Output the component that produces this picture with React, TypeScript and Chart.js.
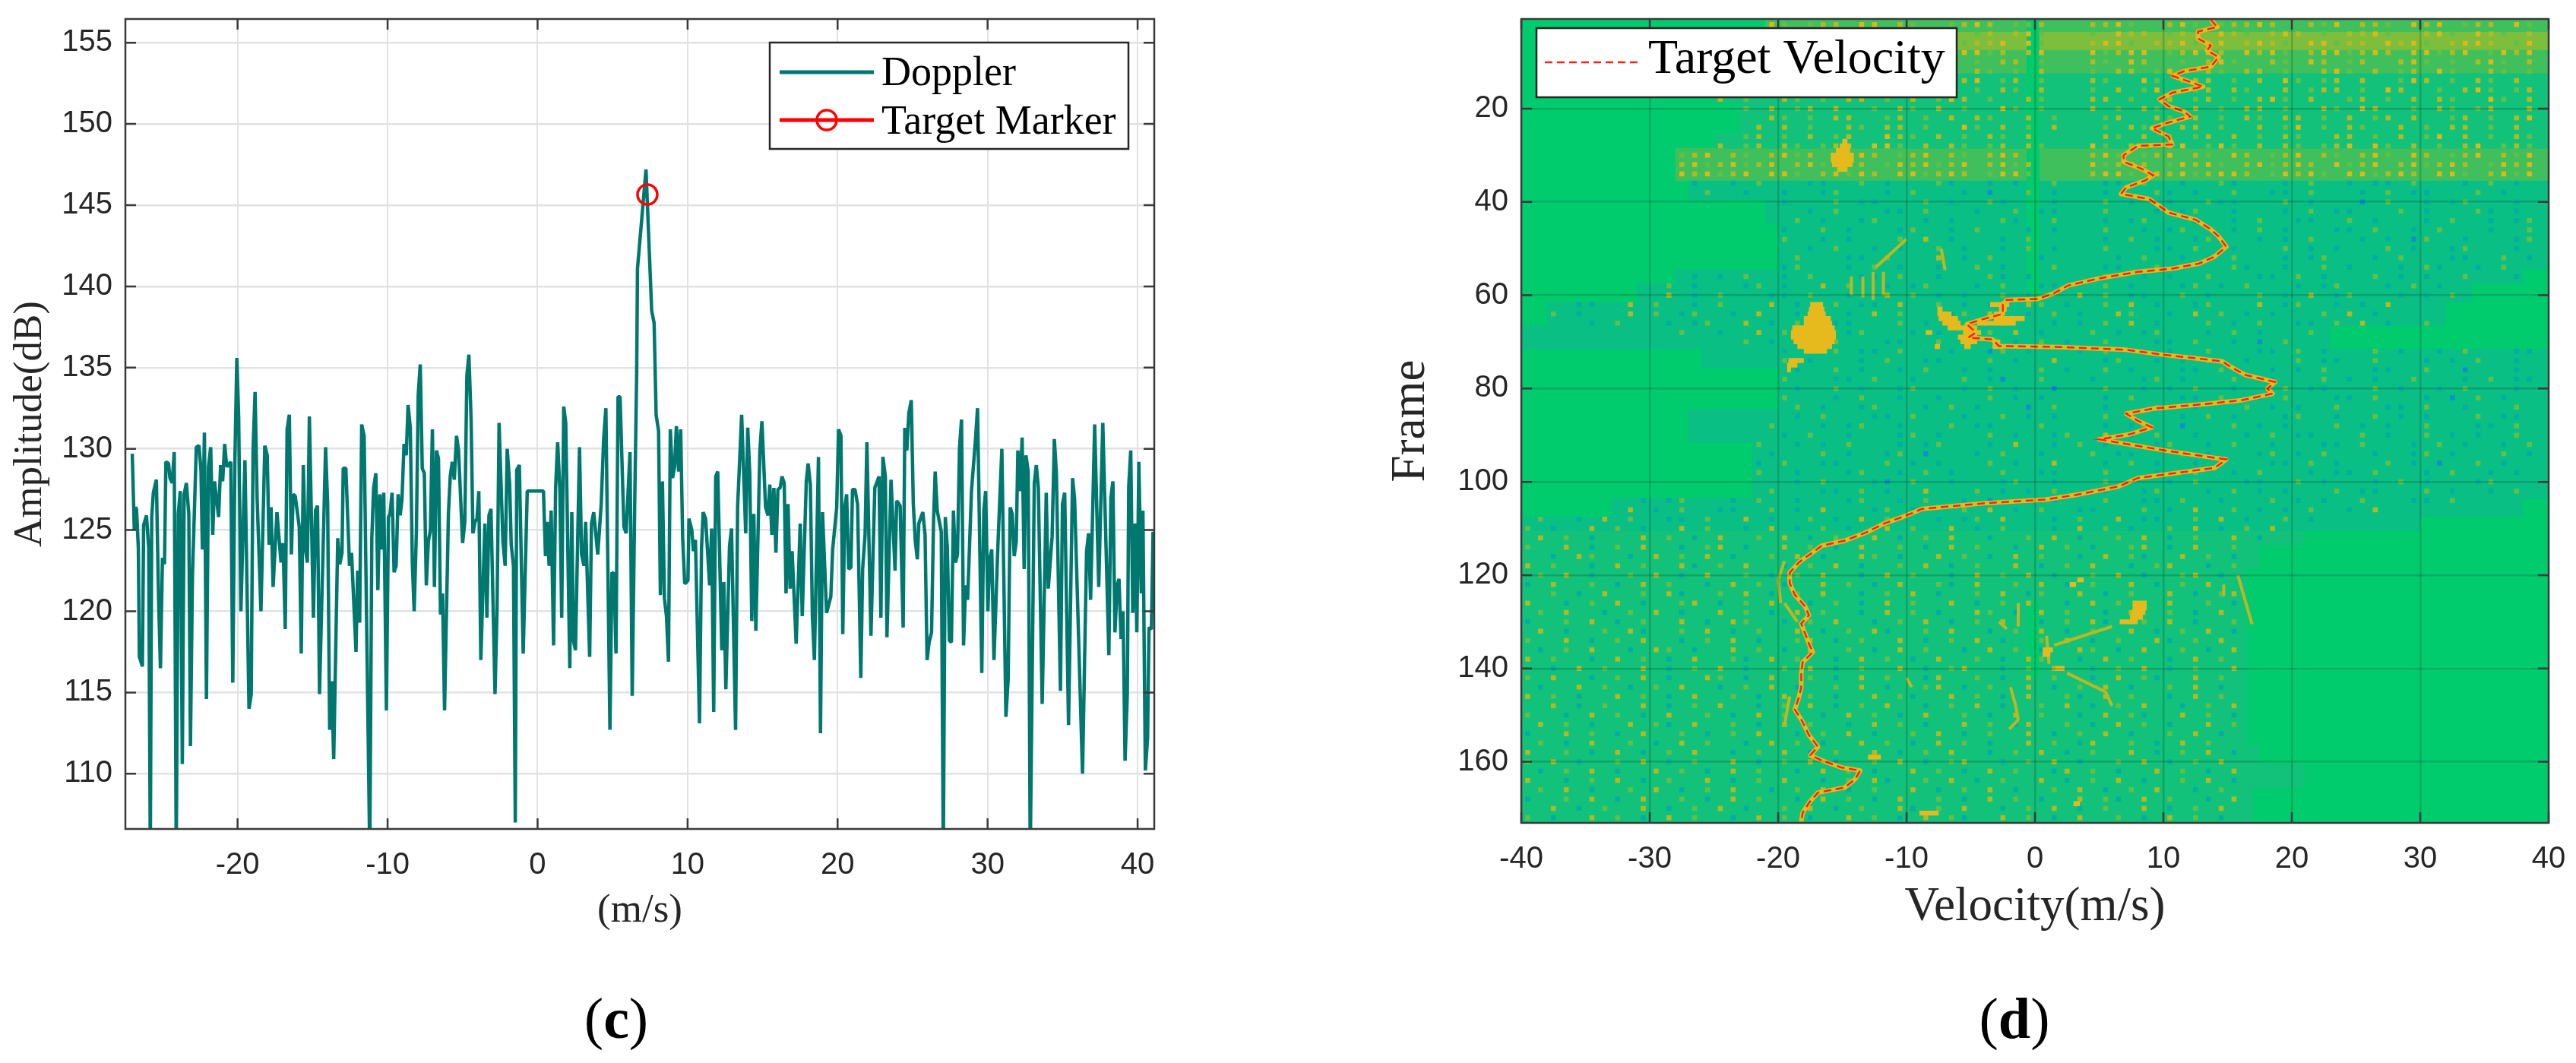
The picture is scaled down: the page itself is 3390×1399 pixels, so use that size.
import React, { useEffect, useRef } from "react";
import { Chart, registerables } from "chart.js";
Chart.register(...registerables);

// ---------- panel (c): Doppler spectrum as [bin, dB]
const BIN0 = -27.48;
const BIN_STEP = 0.1351;
const dopplerPartA = [[3.4,129.7],[4.4,125],[5,126.4],[5.5,126.3],[6.4,123.9],[6.9,117.2],[8.4,116.6],[9,125.3],[10.4,125.9],[11.5,123.9],[12.3,105],[13,125.8],[13.8,127.3],[15.3,128.1],[16.3,121.2],[17.3,116.5],[18.3,123.3],[19.3,122.9],[20,129.2],[21.3,129.1],[22,128.2],[23.1,127.9],[24.1,129.8],[25.1,105],[26.1,126],[27.1,127.4],[28.1,110.6],[29,127.2],[30.1,127.9],[31.3,126],[32.1,111.7],[33.1,122.2],[35,130.1],[36.3,130.2],[37.3,128.7],[38,123.8],[39,131],[40,114.6],[41,128.9],[42.1,130.1],[43.1,124.7],[44,128],[45,126.9],[46,125.8],[47,129],[48,128],[49,130.3],[50,128.9],[52,129.2],[53,115.6],[54,129],[55,135.6],[55.9,132],[57,120],[59,129.3],[61,114],[62.1,114.9],[63,129.9],[64,133.5],[65,127],[66.9,120],[68.8,130.2],[70,129.6],[70.9,124.1],[71.9,126.4],[72.9,121.5],[74.8,126.1],[76.8,123],[77.8,124.2],[78.9,118.9],[79.8,131.2],[80.9,132.1],[81.9,123.5],[82.8,127.2],[83.8,127.1],[85.8,125.2],[86.8,117.4],[87.8,129],[88.8,123.9],[89.8,123],[90.8,132],[92.8,119.6],[93.8,126.2],[94.8,126.5],[95.8,114.9],[98.8,130.1],[99.8,126.6],[100.8,112.7],[101.8,115.7],[102.8,110.9],[104.8,124.5],[105.8,122.9],[106.9,123.6],[107.5,128.8],[108.8,128.8],[110.6,122.8],[111.6,123.6],[113.8,117.5],[114.6,122.5],[115.6,119.3],[116.6,131.5],[117.8,130.8],[120.6,105],[121.6,124.5],[122.5,127.6],[123.6,128.5],[124.6,121.3],[125.6,127.2],[126.5,123.8],[127.5,127.3]];
const dopplerPartB = [[128.8,113.9],[129.8,125.8],[130.6,126],[131.6,127.3],[132.6,122.4],[133.6,122.8],[134.6,127.2],[135.6,125.9],[136.5,126.9],[137.5,130.3],[138.6,129.6],[139.5,132.7],[140.6,131.3],[141.6,123],[142.5,120],[143.6,124.9],[144.5,133.3],[145.5,135.2],[146.5,128.8],[147.5,128.5],[148.5,121.6],[149.5,124.3],[150.5,125],[151.5,131.2],[152.5,121.5],[153.5,129.9],[154.5,129.4],[155.5,119.8],[156.5,121.1],[157.5,113.9],[159.4,126],[160.3,128.3],[161.3,129.2],[162.3,128.1],[163.4,130.8],[164.4,129.9],[166.4,124.2],[167.5,125.5],[168.5,134.5],[169.5,135.8],[170.6,131.8],[171.5,124.8],[172.5,125.5],[173.5,125.7],[174.4,127.4],[175.4,117],[177.4,125.4],[178.4,119.6],[179.4,125.9],[180.4,126.3],[182.4,114.9],[183.4,120.1],[184.4,131.6],[186.3,124.3],[187.4,122.8],[188.4,130],[189.6,127.9],[190.4,124.1],[191.5,122.8],[192.4,107],[193.1,128.7],[194.4,129],[196.3,117.4],[198.3,127.4],[206.3,127.4],[207.3,123.4],[208.1,125.5],[209.1,122.8],[210.1,126.2],[211.3,117.9],[212.3,127.6],[213.3,130.4],[214.4,127.5],[215.3,119.6],[216.3,132.6],[217.3,131.6],[219.3,116.5],[220.3,126.1],[221.1,118.2],[222.1,117.6],[224.1,130.1],[225.1,123.5],[226.3,122.8],[227.1,125.5],[229.1,117.2],[230,125.4],[231.1,126.1],[233.1,123.5],[234.8,126.6],[236,130.6],[237.1,132.5],[239.1,112.7],[240.1,122.4],[241.1,122.3],[242.1,117.4],[243.1,133.2],[244.1,133.2],[246,125.2],[247.1,124.8],[249,129.8],[250.1,114.8],[251.3,126.4],[252.3,134.7]];
const dopplerPartC = [[252.7,141.1],[256.9,147.2],[259.7,138.5],[260.9,137.75],[261.9,132.1],[263.1,131.1],[264,121],[265,128],[266,120.8],[267,119.7],[268,116.9],[268.9,131.2],[270,128.2],[271,128.9],[271.9,131.4],[273,128.6],[274,131.2],[275,124.5],[276,121.7],[277,121.8],[277.6,121.9],[278.1,125.7],[279.5,125],[280.3,123.7],[281.3,124.4],[283.3,113.1],[284.3,123.9],[285.1,126.1],[286.3,125.7],[288.3,121.6],[289.3,125.1],[290.3,113.8],[291.3,128.3],[292.3,128.6],[294.3,117.6],[295.3,121.8],[296.3,115.2],[298.1,124],[299.1,125.1],[301.1,112.7],[302.1,126.4],[304.1,132.1],[306.1,124.8],[307.1,131.3],[308.1,128.5],[309.1,119.4],[310.1,126],[311.1,118.8],[313.1,129.9],[314.1,131.7],[315.9,126.4],[317.1,125.9],[318,127.8],[319,124.7],[320,127.6],[321,123.6],[322,127.5],[323.1,127.6],[324,128.3],[325.1,127.9],[326,121.1],[327,126.6],[328,121.4],[329,123.7],[331,118],[333,125.4],[334,119.7],[336,128],[336.9,129.1],[338,127.8],[339,119.7],[340,117],[342,129.5],[343,112.5],[344,126.1],[346,119.9],[348.1,120.9],[349,123.8],[351,126.4],[351.9,131.2],[353.1,130.8],[354,118.6],[355,126.4],[355.9,127.2],[356.9,122.6],[358,122.7],[358.8,127.5],[360,127.5],[361.3,126.6],[362.9,115.9],[363.8,122.6],[365,124.7],[365.9,130.4],[367.9,118.5],[369.8,127.6],[371.9,128.3],[372.8,119.6],[373.8,129.5],[375,128.3],[375.8,118.4],[377.8,128.1],[379.8,122.5],[380.6,126.8],[382.3,126.5]];
const dopplerPartD = [[383.8,119],[384.6,131.3],[385.6,129.9],[386.6,132.2],[387.8,133],[388.8,126.6],[389.8,124.3],[390.8,123.2],[391.5,125.4],[393.5,126.1],[394.6,124.7],[395.6,117],[396.6,118.1],[397.8,118.7],[398.8,125.6],[399.6,128.6],[400.6,126.2],[402.6,124.9],[403.6,105],[404.6,125.8],[405.6,123.9],[406.6,118.2],[407.6,118.1],[408.6,126.2],[409.6,123],[410.6,123.5],[411.6,130.1],[412.6,131.8],[413.6,117.9],[414.6,121.6],[415.6,120.7],[417.5,127.4],[419.5,130.6],[420.5,132.5],[422.6,116.2],[423.6,126.2],[424.5,127.4],[425.6,120],[426.5,123.2],[427.5,123.8],[428.6,117],[430.5,123.9],[432.5,130],[434.5,113.5],[435.6,115.8],[436.6,126.4],[437.6,126],[438.6,123.4],[439.6,124.3],[440.4,129.9],[441.5,127.4],[442.5,130.7],[443.5,122.6],[444.4,129.6],[445.5,128.6],[446.5,105],[448.5,127.9],[449.5,129],[450.5,127.6],[452.4,114.3],[454.4,127.3],[455.4,121.4],[457.3,124.6],[458.4,130.6],[459.4,128.5],[461.4,115.1],[462.4,126.6],[463.5,127.3],[465.4,113],[467.4,128.2],[468.4,126.9],[472.3,110],[474.3,123.7],[475.3,124.8],[476.3,120.7],[478.3,131.5],[480.3,121.5],[482.3,131.6],[485.3,117.3],[486.3,127],[487.3,128],[488.3,118.7],[489.4,121.6],[490.3,122],[491.3,118.3],[492.3,120],[493.3,110.8],[494.4,114.9],[495.1,127.7],[496.1,129.9],[497.1,119.9],[498.1,125.4],[499.1,118.7],[500.1,129.2],[501.3,121.1],[502.1,126.2],[503.3,110.2],[504.4,112.2],[505.1,119],[506.3,118.9],[507.1,124.9],[508.3,121.1]];
const targetVelocity = [7.32];
const targetAmplitude = [145.65];
const cXTicks = [-20, -10, 0, 10, 20, 30, 40];
const cYTicks = [110, 115, 120, 125, 130, 135, 140, 145, 150, 155];

// ---------- panel (d): track, as [frame, m/s]
const trackPairs = [[1,13.7],[2.5,14.2],[3.5,12.7],[5,12.7],[6.5,13.7],[7.5,13.4],[9,14.3],[11,13.7],[12,11.6],[13,10.7],[14.4,12.2],[15.3,13.1],[16.6,10.7],[18,9.7],[19.5,10.4],[20.6,11.6],[21.7,12.1],[23,10.4],[24.2,9.1],[26,10.4],[27.7,10.7],[28,8],[30,6.9],[31.4,6.9],[32.9,8.3],[34.3,9.2],[35.4,8.6],[36.9,7.1],[38.3,6.7],[39.4,8.9],[40.9,9.7],[42.3,10.4],[43.8,12.5],[45.9,13.7],[47.4,14.3],[49.6,14.9],[51.7,14],[53.2,12.8],[54.3,10.7],[55,8],[56.4,5],[57.9,2.6],[59.7,1.4],[60.8,0.2],[61,-2.2],[61.9,-2.5],[64,-2.5],[65.1,-4],[66.2,-5.3],[68,-4.6],[69.1,-5.2],[69.5,-3.3],[70.9,-2.8],[71.1,2],[71.7,7.1],[72.8,10.1],[73.5,12.5],[74.2,14.6],[75.3,15.2],[77.1,16.4],[78.6,18.7],[80,18.1],[81.1,18.5],[82.5,16.1],[83.3,13.4],[84.3,9.2],[85.4,7.1],[86.9,8],[88.3,9.1],[89.8,7.4],[90.9,5],[92.3,8],[93.4,10.4],[94.5,13.1],[95.2,14.9],[97,14],[98.1,11],[99.2,8],[101,6.5],[102.8,3.2],[103.8,0.8],[104.6,-4],[105.8,-8.8],[107.2,-10],[109,-11.8],[110.8,-13.1],[112.6,-14.8],[113.7,-16.6],[115.1,-17.3],[117.3,-18.4],[119.5,-19.1],[121.7,-19.1],[124.2,-18.7],[126.7,-17.9],[128.6,-17.6],[130.4,-18.2],[132.5,-17.9],[134.7,-17.6],[136.5,-17.3],[138.7,-18.1],[141.2,-18.2],[144.1,-18.2],[146.3,-18.4],[148.8,-18.7],[151.4,-18.1],[154.3,-17.6],[156.8,-16.9],[158.6,-17.5],[159.7,-16.6],[161.2,-15.1],[161.9,-13.6],[163.7,-14],[165.5,-14.8],[166.6,-16.9],[168.8,-17.6],[171,-18.1],[172.8,-18.2]];
const dXTicks = [-40, -30, -20, -10, 0, 10, 20, 30, 40];
const dYTicks = [20, 40, 60, 80, 100, 120, 140, 160];

// noise bands: first frame, last frame, left m/s, right m/s, level
const noiseBands = [[1,3,-21,40,2],[4,7,-21,40,3],[8,12,-21,40,2],[13,18,-25,40,1],[19,25,-23,40,1],[26,28,-25,40,1],[29,35,-28,40,2],[36,39,-27,40,0],[40,44,-21,40,0],[45,54,-20,40,0],[55,57,-28,38,0],[58,61,-31,34,0],[62,66,-38,32,0],[67,71,-40,23,0],[72,75,-26,40,0],[76,84,-20,40,0],[85,91,-27,40,0],[92,103,-22,40,0],[104,107,-33,38,0],[108,110,-40,30,0],[111,113,-40,21,1],[114,118,-40,17.5,1],[119,156,-40,16.5,1],[157,160,-40,17.5,1],[161,165,-40,21,1],[166,173,-40,17,1]];
const cleanStrips = [[1,62],[126,142]];
const STRIP_VELOCITY = -0.15;

// bright blobs, one horizontal run per frame: frame, from m/s, to m/s
const blobRuns = [[27,-15,-14.6],[28,-15.2,-14.6],[29,-15.5,-14.4],[30,-15.9,-14.1],[31,-15.9,-14.1],[32,-15.8,-14.2],[33,-15.4,-14.6],[62,-17.5,-16.5],[63,-17.6,-16.4],[64,-17.7,-16.3],[65,-18,-15.9],[66,-18,-15.8],[67,-18.9,-15.6],[68,-19,-15.5],[69,-19,-15.5],[70,-18.8,-15.6],[71,-18.5,-15.8],[72,-18,-16.2],[74,-19.2,-18],[75,-19.3,-18.5],[76,-19.3,-19],[62,-3.5,-2],[63,-7.6,-7.2],[63,-2.8,-2.2],[64,-7.6,-6.5],[64,-3.2,-2.6],[65,-7.5,-6],[65,-3.2,-0.8],[66,-7.2,-5.8],[66,-4.5,-1.5],[67,-6.8,-4.5],[68,-8.5,-8],[68,-5.6,-4.2],[69,-6,-4.5],[70,-5.8,-4.5],[70,-3.3,-2.7],[71,-7.8,-7.4],[71,-5.5,-5],[71,-3.3,-2.5],[126,7.6,8.7],[127,7.6,8.7],[128,7.5,8.6],[129,7.4,8.4],[130,6.6,8],[136,0.6,1.4],[137,0.6,1.2],[140,1.6,2.3],[121,3.3,3.8],[122,2.7,3.2],[159,-13,-12],[171,-9,-7.5],[169,3,3.5]];
// faint echoes: from frame, to frame, from m/s, to m/s
const echoFrameFrom = [56,56,55,55,48,50,120,122,126,130,131,141,145,144,148,151,117,121,126,146,133,142];
const echoFrameTo = [60,60.5,61,60,54,54.6,130.5,124.5,131,131.5,135,145,148,148,151,153,121,126,130,152,139,144];
const echoVelFrom = [-14.3,-13.4,-12.6,-11.8,-10,-7.3,15.8,14.7,-1.3,-2.8,6,2.5,5.5,-1.9,-1.5,-1.3,-19.5,-20,-19.5,-19.1,0.9,-10];
const echoVelTo = [-14.3,-13.4,-12.6,-11.8,-12.4,-7,16.9,14.7,-1.3,-2.2,1.5,5.5,6,-1.5,-1.3,-2,-20,-19.8,-18.5,-19.5,1.1,-9.6];

// hand-estimated speckle, one row per two frames, one letter per m/s from -40
const speckleRows = [
"..................yYg.gyy.YY.yg..gyYy.ggy...yyYg..yYg.gyyYy..ygY.yyg.YyY.gyy.Yg",
"...................gyy.Yy.g.yYYg.y.gy.yYg...g.Yyy.gy..Yyg.yYy.g.yyYg..yYg.Yyg.y",
"..................yYYg.yyYy.gYYy.YgyyY.Yg...yYYg.yyYgyY.yYyg.YYgyy.YyYg.yYYy.gY",
"...................YyYgyYY.yYgyYy.YYgy.yY...YgyYY.gyYYy.YyYg.yYYgyYy.YYgyY.gYyY",
"....................gy.yYg.yg..Ygy.g.yy.g...yg.Yy..g.yYg..yg.Yy.gy..yYg.g.yYg.y",
"..................yg..y.gyy.g.yYg..yg.g.y...g.yy.gY..yg.yy.g..yYg.y.gy.Yg..yg.g",
"...................y.gYy..gy.yg.g.yY.gy.g...yg..Yg.gyy.g.y.Yg.gy.y..gYy.g.yg.y.",
".................gy.g.yy.g..yYg.y..g.yg.y...g.y.gY..gy.yg..y.gyy.g.Yy..g.yYg.gy",
"...............y.g..yg.g.yy.g.y.gYy.g..yg...yy.g..y.gy.g.yYg.y..gy.g.y.yg..Yg.y",
".................g.y.gy.y..g.yg.y.g..Yg.g...y.g.yg..y.g.yy.g..yg.Yy..g.yg.gy..y",
"...............yg..yg.g.yy..gy.g.y.yg..y.g...gy..yg.y.g.yg.yy.g.y.gy.y..gy.g.yY",
"................g.y.y.g..yg.yy.g..Yg.y.g.y...g.yg..yy.g..y.gY.g.yg..y.g.yy.g.y.",
"..............y..gy.g.y.gy..Yyg.y.g.yg.y.....yg.y.g.gy.y.g.yg..yy.g.y.gY.y.g.yg",
"............yg.y.gy.yg.gyY.YYg.y.yg.gy.yg...Yg.yg.yY.gYg.y.yg.gyY.Yg.y.g.yY.gyg",
"............gyY.yg.yYgy.gYYy.gyY.yg.yYy.....yYg.gyY.yg.Yy.gyY.yg.yYg.Yy.gyY.ygY",
"............yYgyYgyY.yYgyYy.gYyYgyY.yYgy....YgyYy.gYyYg.yYgyYy.YgyY.yYgyYy.gYyY",
"............YyYgyY.YYg.yYgYy.YYgyYy.gYYg....yYYg.YyYgyYYy.gYyYg.YYgyYy.YYg.yYgY",
".............b..b.g...bb..g.b...gb..b.b..g...bb.g..b..gb...b.g..b.bb.g...b.g.b.",
"..............g..b..b..bg...b.g...b.B..g.b...b...gb.b..g..bb.g...b.g.bb...g.b..",
"....................b...g.bb...g.b..gb...b...g.b..b..gbb...g.b...B.g..b.bg...b.",
"......................b.g...bb.g...b..g.bb...g...b.bg..b...b.g.bb...g.b...gb.b.",
".....................g.b..bg...b.b...gb..g...b.bg...b..b.g..bb..g.b...b.g..b.bg",
"....................b..g.b...bg..b.g...b.b...g..b.bg...b.g.b...bb.g..b.g...b..g",
"....................g..b.b...g.y.b...b.g.....b.g.b..bg...b.b.g...b.b.Bg..b...bg",
"......................b.g..b.b..g.b..b.g.b...g...bb.g..b...g.b.b...g.b..bg...b.",
".....................g...bb.g...y.b.g...b.....b.g..b.b.g...b.bg...b.g...bb..g.b",
"...........b..g.b...bg...b.g.b..b..g.b...g...bb..g.b...gb..b..g.b...b.gb..b.g..",
".........g...b.b.g..b.g...bb.g..b...gb.b.....g..b.b..g...bb.g.b...g.b.b..g...b.",
".......b...g.b...bg.b..y.g..b.bg...b.g..bb...g.b...bg.b.g...b.bg...b.g.b..bg.b.",
"...b.g..b..y.b.g...bb.g..b..y.g.b.b..g.b...y.g.bb..g.b...g.b.y.bg...b.b.g..b.g",
".g..bb..y.g..b.g...y.b..g.bb.y..g.b.b..yg.b..g.y.b..bg...y.bg..b.b.y",
"..g.b...y.g.bg..b.y..bg..b.y.g...bg.y..b.g.b..yg..b.y.g.b.b...g.y.b",
".....b.g...b.bg..y.b.g..bb...g.b.y..bg...b.b.g.y.b...g.b.g..bb.g.y.b..g.b.b.g..",
"............g..b..y.g.b..bg...b.b...g.y.b...g.b.bg...b.g.b...g.by..b.g..b.b.g..",
".................g.b..b.g...bb..g.b...b.g.b..g...bb.g..b.B.g...b.b..g.b..b.g...",
"....................b...g.bb.g...b..Bg.b...b.g..b.b..g...bb.g.b...g.b..b.g...bb",
"....................g.b...b.g..bb...g.b..y...bg..b.b.g..b...g.bb..g...b.b.g..b.",
".....................b..g.b..b.g..b.b...g.b..g.b...bb.g...b.b.g...bb..g..B...b.",
"....................g...bb.g..b...g.bB..g...b...bg.b...g.bb...g.b.b..g...b.g.bb",
"...............b.g...b..g.b..bg...b.g.b..B...g..b.b.g..b...g.bb...g.b..b.g...b.",
"..............g..b.bg...b.g..b..b...g.b.b....b.g...bb.g..b.g...bb.g...b.B.g.b..",
"..................b..g.b..bg...b.g.b...B.g...b...gb.b...g.b.b..g...bb.g..b...g.",
".....................b.g...bb.g...b..g.b.b...g.b...b.g.b...bg..b..g.b.b...g.bb.",
"...................g...b.bg..b...g.bb...g....b.bg..B...g.b.b...g.b.b..g...bb.g.",
"....................b.g..b...bg.b...g.b..bg..y.b.g..b...b.g.bb...g.b..g.b.b..g.",
"..................g..b.b.g...b.bg...b.y..b.g.b...bg..b.g..b...bb.g...b.g.b..b.g",
"...................b...g.b..bg.B...b.g..b...g.bb...g.b...bg.b.g...b..bg.b...g.b",
"..................b.g..bb...g.b.b...g.b..y...b.g.b..b.g...bb.g.b...g.b.B..g.b..",
"...............b..g..b...bg..b.g.b...g..bb...g...b.bg..b.g...b.bb.g...b.g..b.b.",
"..........g.b...bg...b.g...bB.g..b...bg..b...g.b..b.g...bb..g.b...b.g.b...bg...",
"........b...g.b.b..g...bb.g.b..y...g.b.b.g...b..bg...b.g.b.b...g.bb...g.b..b.g.",
"......g..b.bg...b.g..b...bg..b.g..b.B..g.b...g..bb.g..b...g.b.b..g...bb.g..",
"...g.b..y.b.g..bb..g.b.y...bg.b...g.y.b.g..bb...g.b.y..g.b.b.g..b.y",
".g..b.y.g..bb.g..y.b..g.b.y.g...b.bg.y...b.g..y.bb..g.y.b..g.b",
"g.b..y.g.b..y.g..b.y.b.g.b..y.g..y.b.g...b.y.g.b..g.y.b.g.y",
".y.g.b...y.g.b.y..g.y.b.g..y.b.g.y..b..g.y.b..g.y.b.g..y.b",
"g..y.b.g.y..b.gy.b..y.g.b.y..g.b.y.g..b.y.g.b..gy.b.y..g.",
"..b.yg..b.y.g.y.b..g.y.b..yg.b..y.g.b.y.g..b.y.gb..y.g.b.",
"y.g..b.y.g..yb.g.y..b.g.y.b..g.y.b.g..y.b.g.y..b.gy..b.g.",
".g.y.b..g.y.b.y..g.b.g.y..b.y.g..b.y.g.y.b..g.y.b..gy.b.",
"b.y..g.b.y.g..b.y.g.b..y.g.b.y..gb.y..g.y.b.g..y.b.g.y..",
"..g.b.y..g.yb..g.y.b.g.y..b.g.y.b..g.y.bg..y.b.g..y.b.gy",
"y..b.g.y.b..gy.b.g.y..b.g.b.y.g..y.b.g.y..b.y.g.b.y..g.b",
".g.y..b.g.y.b..y.g.b.y.g..b.y.g.b..yg.b.y.g..b.y..g.b.y.",
"b..g.y.b.g..y.b.yg..b.g.y..b.g.y.b.g.y..b.g.yb..g.y.b..g",
".y.b..g.yb..g.y.b.g..y.b.g.yb..g.y..b.g.y.b.g..y.b.g.y.b",
"g..y.b.g.y..b.g.y.b..gy.b.g..y.b.g.y.b..g.y.b.g..yb.g.y.",
".b.g.y..b.yg.b..y.g.b.y..g.b.y.g..b.y.g.b..yg.b.y..g.b.y",
"y.g..b.y.g.b.y..gb.y.g..b.y.g.b.y..g.b.yg..b.y.g..b.y.g.",
"..b.y.g..y.b.g.y.b..g.y.b.g..y.b.gy..b.g.y..b.g.y.b.g..y",
"g.y..b.g.y.b..yg.b.y..g.b.y.g..by..g.b.y.g..b.y.gb..y.g.",
".b..y.g.b.g.y..b.g.y.b..g.y.b..gy.b.g..y.b.g.y.b..g.y.b.",
"y.g.b..y.g.b.y..g.b.y.g.b..y.gb..y.g.b.y..gb.y.g..b.y.g.",
"..y.b.g..y.b.g.y..b.g.y.b.g.y..b.g.y.b..g.y.b.g.y..b.g.y",
"g..b.y.g.b.y..g.b.y.g..b.y.g.b.y..g.b.y.g..b.y.gb..y.g.b",
".y.g.b..y.gb.y..g.b.y.g..b.y.g.b..y.g.by..g.b.y.g.b..y.g",
"b..y.g.b.y..g.b.g.y..b.g.y.b..g.y.b.g..y.b.g.y.b..g.y.b.",
".g.b.y..g.b.y.g..b.y.g.b..y.g.b.y.g.b..y.g.by..g.b.y.g..",
"y..g.b.y.b.g.y..b.g.y.b.g..y.b.g.y..b.g.y.b.g..y.b.g.y.b",
"g.y.b..g.y.b.g..y.b.g.y.b..g.y.b.gy..b.g.y.b..g.y.b.g.y.",
".b.g.y.b..y.g.b.y.g..b.y.g.b..y.g.b.y.g..by.g.b..y.g.b.y",
"y..b.g.y.b.g..y.b.g.y..b.g.yb..g.y.b.g..y.b.g.y.b..g.y.b",
".g.y.b..g.y.b.g.y..b.g.y.b.g..y.b.g.y.b..g.y.b.g.y..b.g.",
"b..g.y.b.y..g.b.y.g..b.y.g.b.y..g.b.y.g.b..y.gb.y.g..b.y",
"..y.b.g..y.b.g.y.b..g.y.b.g..yb.g.y..b.g.y.b.g..y.b.g.y.",
"g.b..y.g.b.y.g..b.y.g.b..y.g.b.y.gb..y.g.b.y..g.b.y.g.b."
];

// ---------- colours
const C_LINE = "#00786F";
const C_TEXT = "#262626";
const C_FRAME = "#3a3a3a";
const BG_GREEN = "#00CC6E";
const LEVEL_COLORS = ["#0ABF84", "#12C27A", "#3FC05C", "#7DBE3C"];
const SPECKLE_COLORS: Record<string, string> = { g: "#62BF48", y: "#B3B922", Y: "#DDB816", b: "#00AFA2", B: "#0A92CE" };

const W1 = 1700, W2 = 1690, H = 1399;
const SANS = "'Liberation Sans', Arial, sans-serif";
const SERIF = "'Liberation Serif', 'Times New Roman', serif";

const toPts = (pairs: number[][]) => pairs.map(([b, d]) => ({ x: BIN0 + b * BIN_STEP, y: d }));
const GAP = { x: NaN, y: NaN };
const noPad = (s: any) => { s.paddingTop = 0; s.paddingBottom = 0; s.paddingLeft = 0; s.paddingRight = 0; };

function frameAndTicks(tickLen: number) {
  return {
    id: "frameTicks",
    afterDraw(chart: any) {
      const { ctx, chartArea: a, scales } = chart;
      ctx.save();
      ctx.strokeStyle = C_FRAME;
      ctx.lineWidth = 2.5;
      ctx.beginPath();
      for (const t of scales.x.ticks) {
        const p = scales.x.getPixelForValue(t.value);
        ctx.moveTo(p, a.top); ctx.lineTo(p, a.top + tickLen);
        ctx.moveTo(p, a.bottom); ctx.lineTo(p, a.bottom - tickLen);
      }
      for (const t of scales.y.ticks) {
        const p = scales.y.getPixelForValue(t.value);
        ctx.moveTo(a.left, p); ctx.lineTo(a.left + tickLen, p);
        ctx.moveTo(a.right, p); ctx.lineTo(a.right - tickLen, p);
      }
      ctx.stroke();
      ctx.strokeRect(a.left, a.top, a.right - a.left, a.bottom - a.top);
      ctx.restore();
    },
  };
}

const legendC = {
  id: "legendC",
  afterDraw(chart: any) {
    const { ctx } = chart;
    ctx.save();
    ctx.fillStyle = "#fff"; ctx.fillRect(1013, 56, 472, 140);
    ctx.strokeStyle = "#262626"; ctx.lineWidth = 2.5; ctx.strokeRect(1013, 56, 472, 140);
    ctx.lineWidth = 5;
    ctx.strokeStyle = C_LINE; ctx.beginPath(); ctx.moveTo(1026, 95); ctx.lineTo(1150, 95); ctx.stroke();
    ctx.strokeStyle = "#FF0000"; ctx.beginPath(); ctx.moveTo(1026, 158); ctx.lineTo(1150, 158); ctx.stroke();
    ctx.lineWidth = 3.5; ctx.beginPath(); ctx.arc(1088, 158, 13, 0, Math.PI * 2); ctx.stroke();
    ctx.fillStyle = "#000"; ctx.font = `54px ${SERIF}`; ctx.textBaseline = "alphabetic"; ctx.textAlign = "left";
    ctx.fillText("Doppler", 1160, 112);
    ctx.fillText("Target Marker", 1160, 176);
    ctx.restore();
  },
};

const legendD = {
  id: "legendD",
  afterDraw(chart: any) {
    const { ctx } = chart;
    ctx.save();
    ctx.fillStyle = "#fff"; ctx.fillRect(322, 37, 553, 91);
    ctx.strokeStyle = "#262626"; ctx.lineWidth = 2.5; ctx.strokeRect(322, 37, 553, 91);
    ctx.strokeStyle = "#FF1E1E"; ctx.setLineDash([10, 6]); ctx.beginPath(); ctx.moveTo(333, 82); ctx.lineTo(455, 82); ctx.stroke();
    ctx.setLineDash([]);
    ctx.fillStyle = "#000"; ctx.font = `64px ${SERIF}`; ctx.textBaseline = "alphabetic"; ctx.textAlign = "left";
    ctx.fillText("Target Velocity", 469, 96);
    ctx.restore();
  },
};

const heatBackground = {
  id: "heatBackground",
  beforeDatasetsDraw(chart: any) {
    const { ctx, chartArea: a } = chart;
    ctx.save(); ctx.fillStyle = BG_GREEN; ctx.fillRect(a.left, a.top, a.right - a.left, a.bottom - a.top); ctx.restore();
  },
};

function bandAt(frame: number) {
  return noiseBands.find((b) => frame >= b[0] && frame <= b[1]);
}

function buildBandDatasets() {
  return LEVEL_COLORS.map((color, level) => {
    const data: any[] = [];
    for (const [f0, f1, l, r, lv] of noiseBands) {
      if (lv !== level) continue;
      for (let f = f0; f <= f1; f++) data.push({ x: l, y: f }, { x: r, y: f }, GAP);
    }
    return { data, showLine: true, borderColor: color, borderWidth: 6.8, pointRadius: 0, borderCapStyle: "butt", spanGaps: false, clip: 0 } as any;
  });
}

function buildSpeckle() {
  const data: any[] = [];
  const colors: string[] = [];
  speckleRows.forEach((row, i) => {
    const frame = 2 + i * 2;
    const band = bandAt(frame);
    if (!band) return;
    for (let c = 0; c < row.length; c++) {
      const ch = row[c];
      if (ch === ".") continue;
      const v = -40 + c + 0.5;
      if (v < band[2] || v > band[3]) continue;
      data.push({ x: v, y: frame });
      colors.push(SPECKLE_COLORS[ch]);
    }
  });
  return { data, showLine: false, pointStyle: "rect", pointRadius: 4.6, pointHoverRadius: 4.6, pointBorderWidth: 0, pointBackgroundColor: colors, clip: 0 } as any;
}

export default function App() {
  const c1 = useRef<HTMLCanvasElement>(null);
  const c2 = useRef<HTMLCanvasElement>(null);

  useEffect(() => {
    const doppler = [...dopplerPartA, ...dopplerPartB, ...dopplerPartC, ...dopplerPartD];
    const left = new Chart(c1.current as any, {
      type: "scatter",
      data: {
        datasets: [
          { data: targetVelocity.map((x, i) => ({ x, y: targetAmplitude[i] })), showLine: false, pointStyle: "circle", pointRadius: 13, pointBorderWidth: 3.5, pointBorderColor: "#FF0000", pointBackgroundColor: "transparent" },
          { data: toPts(doppler), showLine: true, borderColor: C_LINE, borderWidth: 4.5, pointRadius: 0, tension: 0, borderJoinStyle: "bevel", clip: 0 },
        ] as any,
      },
      options: {
        animation: false, responsive: false, devicePixelRatio: 1,
        layout: { padding: { left: 0, top: 25, right: W1 - 1519, bottom: 0 } },
        plugins: { legend: { display: false }, tooltip: { enabled: false } },
        scales: {
          x: {
            type: "linear", min: -27.48, max: 41.11,
            afterFit: (s: any) => { s.height = H - 1091; noPad(s); },
            afterBuildTicks: (s: any) => { s.ticks = cXTicks.map((value) => ({ value })); },
            grid: { drawTicks: false, lineWidth: 2, color: "#e2e2e2" }, border: { display: false },
            ticks: { autoSkip: false, maxRotation: 0, padding: 24, color: C_TEXT, font: { family: SANS, size: 40 }, callback: (v: any) => String(v) },
            title: { display: true, text: "(m/s)", color: C_TEXT, font: { family: SERIF, size: 53 }, padding: { top: 0, bottom: 168 } },
          },
          y: {
            type: "linear", min: 106.6, max: 156.46,
            afterFit: (s: any) => { s.width = 165; noPad(s); },
            afterBuildTicks: (s: any) => { s.ticks = cYTicks.map((value) => ({ value })); },
            grid: { drawTicks: false, lineWidth: 2.5, color: "#e2e2e2" }, border: { display: false },
            ticks: { autoSkip: false, padding: 17, color: C_TEXT, font: { family: SANS, size: 40 }, callback: (v: any) => String(v) },
            title: { display: true, text: "Amplitude(dB)", color: C_TEXT, font: { family: SERIF, size: 53 }, padding: { top: 8, bottom: 0 } },
          },
        },
      } as any,
      plugins: [frameAndTicks(14), legendC] as any,
    });

    const track = trackPairs.map(([f, v]) => ({ x: v, y: f }));
    const blobData: any[] = [];
    for (const [f, a, b] of blobRuns) blobData.push({ x: a, y: f }, { x: b, y: f }, GAP);
    const echoData: any[] = [];
    echoFrameFrom.forEach((f, i) => echoData.push({ x: echoVelFrom[i], y: f }, { x: echoVelTo[i], y: echoFrameTo[i] }, GAP));
    const stripData: any[] = [];
    for (const [a, b] of cleanStrips) stripData.push({ x: STRIP_VELOCITY, y: a }, { x: STRIP_VELOCITY, y: b }, GAP);

    const right = new Chart(c2.current as any, {
      type: "scatter",
      data: {
        datasets: [
          { data: track, showLine: true, borderColor: "#FF1E1E", borderWidth: 2.5, borderDash: [10, 6], pointRadius: 0, tension: 0, clip: 0 },
          { data: track, showLine: true, borderColor: "#E8BA18", borderWidth: 6, pointRadius: 0, tension: 0, borderJoinStyle: "round", clip: 0 },
          { data: blobData, showLine: true, borderColor: "#E6BA1C", borderWidth: 6.4, pointRadius: 0, borderCapStyle: "butt", spanGaps: false, clip: 0 },
          { data: echoData, showLine: true, borderColor: "#BDB820", borderWidth: 4, pointRadius: 0, borderCapStyle: "butt", spanGaps: false, clip: 0 },
          buildSpeckle(),
          { data: stripData, showLine: true, borderColor: BG_GREEN, borderWidth: 17, pointRadius: 0, borderCapStyle: "butt", spanGaps: false, clip: 0 },
          ...buildBandDatasets(),
        ] as any,
      },
      options: {
        animation: false, responsive: false, devicePixelRatio: 1,
        layout: { padding: { left: 0, top: 25, right: W2 - 1654, bottom: 0 } },
        plugins: { legend: { display: false }, tooltip: { enabled: false } },
        scales: {
          x: {
            type: "linear", min: -40, max: 40,
            afterFit: (s: any) => { s.height = H - 1083; noPad(s); },
            afterBuildTicks: (s: any) => { s.ticks = dXTicks.map((value) => ({ value })); },
            grid: { drawTicks: false, lineWidth: 2.5, color: "rgba(0,0,0,0.16)", z: 1 }, border: { display: false },
            ticks: { autoSkip: false, maxRotation: 0, padding: 24, color: C_TEXT, font: { family: SANS, size: 40 }, callback: (v: any) => String(v) },
            title: { display: true, text: "Velocity(m/s)", color: C_TEXT, font: { family: SERIF, size: 63 }, padding: { top: 0, bottom: 167 } },
          },
          y: {
            type: "linear", min: 0.8, max: 173.1, reverse: true,
            afterFit: (s: any) => { s.width = 302; noPad(s); },
            afterBuildTicks: (s: any) => { s.ticks = dYTicks.map((value) => ({ value })); },
            grid: { drawTicks: false, lineWidth: 2.5, color: "rgba(0,0,0,0.16)", z: 1 }, border: { display: false },
            ticks: { autoSkip: false, padding: 17, color: C_TEXT, font: { family: SANS, size: 40 }, callback: (v: any) => String(v) },
            title: { display: true, text: "Frame", color: C_TEXT, font: { family: SERIF, size: 63 }, padding: { top: 120, bottom: 0 } },
          },
        },
      } as any,
      plugins: [heatBackground, frameAndTicks(14), legendD] as any,
    });
    return () => { left.destroy(); right.destroy(); };
  }, []);

  const cap = (x: number): React.CSSProperties => ({ position: "absolute", left: x - 100, width: 200, top: 1302, textAlign: "center", fontFamily: SERIF, fontSize: 76, lineHeight: "76px", color: "#000" });
  return (
    <div style={{ position: "absolute", left: 0, top: 0, width: 3390, height: H, background: "#fff", overflow: "hidden" }}>
      <canvas ref={c1} width={W1} height={H} style={{ position: "absolute", left: 0, top: 0, display: "block" }} />
      <canvas ref={c2} width={W2} height={H} style={{ position: "absolute", left: W1, top: 0, display: "block" }} />
      <div style={cap(811)}>(<b>c</b>)</div>
      <div style={cap(2651)}>(<b>d</b>)</div>
    </div>
  );
}
